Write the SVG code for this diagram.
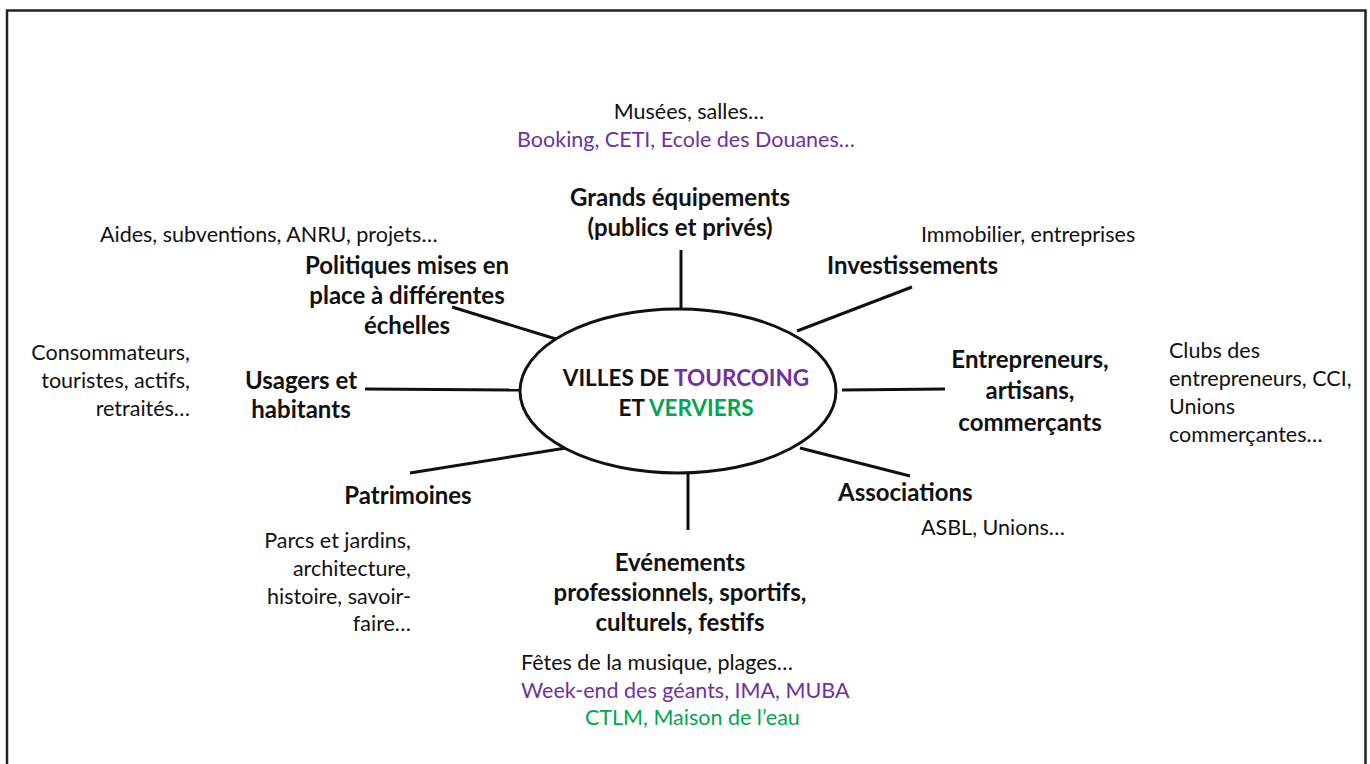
<svg xmlns="http://www.w3.org/2000/svg" width="1370" height="764" viewBox="0 0 1370 764">
<style>
text{font-family:Lato,"Liberation Sans",sans-serif;fill:#111}
.r{font-size:21.5px}
.b{font-size:24px;font-weight:bold}
.s{font-size:22.5px}
.m{text-anchor:middle}
.e{text-anchor:end}
.p{fill:#7030A0}
.g{fill:#00A651}
.c line{stroke:#111;stroke-width:3;stroke-linecap:butt}
</style>
<rect width="1370" height="764" fill="#fff"/>
<path d="M7 764V10.5H1365.5V764" fill="none" stroke="#222" stroke-width="2.5"/>
<g class="c" id="connectors">
<line x1="681" y1="250" x2="681" y2="309"/>
<line x1="452" y1="307" x2="556" y2="339"/>
<line x1="797" y1="331" x2="912" y2="287"/>
<line x1="365" y1="389" x2="521" y2="390"/>
<line x1="842" y1="390" x2="945" y2="389"/>
<line x1="410" y1="473" x2="566" y2="448"/>
<line x1="800" y1="448" x2="910" y2="476"/>
<line x1="688" y1="474" x2="688" y2="530"/>
</g>
<g id="center">
<ellipse cx="678" cy="391" rx="158" ry="82" fill="#fff" stroke="#111" stroke-width="3"/>
<text class="b s m" x="686" y="386">VILLES DE <tspan class="p">TOURCOING</tspan></text>
<text class="b s m" x="686" y="416">ET <tspan class="g">VERVIERS</tspan></text>
</g>
<g id="grands">
<text class="r m" x="689" y="119">Musées, salles…</text>
<text class="r m p" x="686" y="147">Booking, CETI, Ecole des Douanes…</text>
<text class="b m" x="680" y="206">Grands équipements</text>
<text class="b m" x="680" y="236">(publics et privés)</text>
</g>
<g id="politiques">
<text class="r" x="100" y="242">Aides, subventions, ANRU, projets…</text>
<text class="b m" x="407" y="274">Politiques mises en</text>
<text class="b m" x="407" y="304">place à différentes</text>
<text class="b m" x="407" y="334">échelles</text>
</g>
<g id="investissements">
<text class="r" x="921" y="242">Immobilier, entreprises</text>
<text class="b" x="827" y="274">Investissements</text>
</g>
<g id="usagers">
<text class="r e" x="190" y="360">Consommateurs,</text>
<text class="r e" x="190" y="388">touristes, actifs,</text>
<text class="r e" x="190" y="416">retraités…</text>
<text class="b m" x="301" y="389">Usagers et</text>
<text class="b m" x="301" y="418">habitants</text>
</g>
<g id="entrepreneurs">
<text class="b m" x="1030" y="368">Entrepreneurs,</text>
<text class="b m" x="1030" y="399">artisans,</text>
<text class="b m" x="1030" y="431">commerçants</text>
<text class="r" x="1169" y="358">Clubs des</text>
<text class="r" x="1169" y="386">entrepreneurs, CCI,</text>
<text class="r" x="1169" y="414">Unions</text>
<text class="r" x="1169" y="442">commerçantes…</text>
</g>
<g id="patrimoines">
<text class="b m" x="408" y="504">Patrimoines</text>
<text class="r e" x="411" y="548">Parcs et jardins,</text>
<text class="r e" x="411" y="576">architecture,</text>
<text class="r e" x="411" y="604">histoire, savoir-</text>
<text class="r e" x="411" y="631">faire…</text>
</g>
<g id="associations">
<text class="b" x="838" y="501">Associations</text>
<text class="r" x="921" y="535">ASBL, Unions…</text>
</g>
<g id="evenements">
<text class="b m" x="680" y="571">Evénements</text>
<text class="b m" x="680" y="601">professionnels, sportifs,</text>
<text class="b m" x="680" y="631">culturels, festifs</text>
<text class="r" x="521" y="670">Fêtes de la musique, plages…</text>
<text class="r p" x="521" y="698">Week-end des géants, IMA, MUBA</text>
<text class="r g" x="585" y="725">CTLM, Maison de l’eau</text>
</g>
</svg>
